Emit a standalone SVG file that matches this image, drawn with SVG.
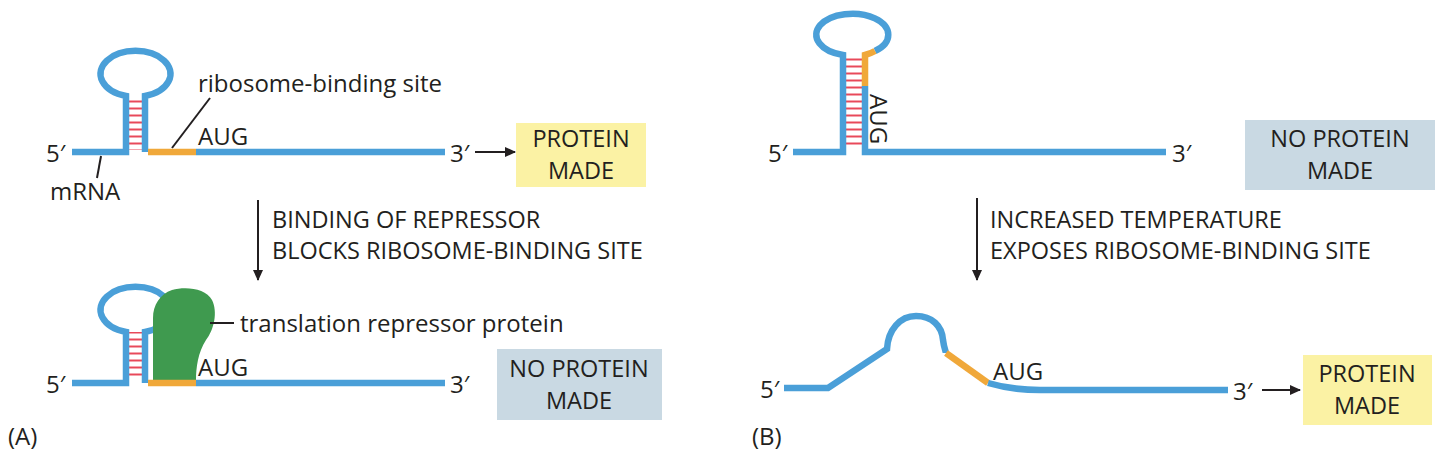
<svg xmlns="http://www.w3.org/2000/svg" width="1442" height="466" viewBox="0 0 1442 466">
<style>
text{font-family:"Open Sans","Noto Sans",sans-serif;fill:#231f20}
.t{font-size:24px}
.b{font-size:23.5px}
.s{font-size:23.5px}
.rna{fill:none;stroke:#4a9fd8;stroke-width:6.5;stroke-linejoin:miter}
.rbs{fill:none;stroke:#f0a83a;stroke-width:6.5}
.bp{stroke:#e8495a;stroke-width:2}
.ln{stroke:#231f20;stroke-width:2;fill:none}
.yb{fill:#fbf2a4}.gb{fill:#c9d9e3}
</style>
<defs>
<marker id="ah" markerWidth="11" markerHeight="10" refX="10" refY="5" orient="auto" markerUnits="userSpaceOnUse"><path d="M0,0L11,5L0,10z" fill="#231f20"/></marker>
<pattern id="bpp" width="22" height="7" patternUnits="userSpaceOnUse"><line x1="0" y1="3.5" x2="22" y2="3.5" class="bp"/></pattern>
</defs>
<g id="panelA-top">
<rect x="128" y="96" width="17" height="54" fill="url(#bpp)"/>
<path class="rna" d="M72,152H126V96 A35,23 0 1 1 145,96 V152"/>
<path class="rbs" d="M148,152H196"/>
<path class="rna" d="M196,152H445"/>
<text class="t" x="46" y="162">5′</text>
<text class="t" x="450" y="162">3′</text>
<text class="t" x="198" y="145">AUG</text>
<text class="t" x="198" y="92">ribosome-binding site</text>
<line class="ln" x1="172" y1="148" x2="210" y2="98"/>
<text class="t" x="50" y="200">mRNA</text>
<line class="ln" x1="101" y1="156" x2="97" y2="178"/>
</g>
<g id="boxA1"><rect class="yb" x="516" y="123" width="130" height="64"/><text class="b" x="581" y="147" text-anchor="middle">PROTEIN</text><text class="b" x="581" y="179" text-anchor="middle">MADE</text></g>
<g id="stepA"><text class="s" x="272" y="228">BINDING OF REPRESSOR</text><text class="s" x="272" y="259">BLOCKS RIBOSOME-BINDING SITE</text></g>
<g id="panelA-bottom">
<rect x="128" y="332" width="17" height="48" fill="url(#bpp)"/>
<path class="rna" d="M72,383H126V332 A35,23 0 1 1 145,332 V383"/>
<path d="M153,380 V318 C153,305 160,294 172,290 C185,286 206,288 212,300 C218,312 214,330 206,340 C198,352 196,368 196,380 Z" fill="#3f9a4f"/>
<path class="rbs" d="M148,383H196"/>
<path class="rna" d="M196,383H445"/>
<text class="t" x="46" y="393">5′</text>
<text class="t" x="450" y="393">3′</text>
<text class="t" x="198" y="376">AUG</text>
<line class="ln" x1="210" y1="323" x2="234" y2="323"/>
<text class="t" x="240" y="332">translation repressor protein</text>
</g>
<g id="boxA2"><rect class="gb" x="497" y="349" width="165" height="71"/><text class="b" x="579" y="377" text-anchor="middle">NO PROTEIN</text><text class="b" x="579" y="409" text-anchor="middle">MADE</text></g>
<text class="t" x="8" y="445">(A)</text>
<g id="panelB-top">
<rect x="845" y="56" width="18" height="93" fill="url(#bpp)"/>
<path class="rna" d="M793,152H843V55 A36,21 0 1 1 875,51"/>
<path class="rbs" d="M875,51 A36,21 0 0 1 865,55 V86"/>
<path class="rna" d="M865,86V152H1166"/>
<text class="t" x="0" y="0" transform="translate(870,94) rotate(90)">AUG</text>
<text class="t" x="768" y="162">5′</text>
<text class="t" x="1172" y="162">3′</text>
</g>
<g id="boxB1"><rect class="gb" x="1245" y="120" width="190" height="70"/><text class="b" x="1340" y="147" text-anchor="middle">NO PROTEIN</text><text class="b" x="1340" y="179" text-anchor="middle">MADE</text></g>
<g id="stepB"><text class="s" x="990" y="228">INCREASED TEMPERATURE</text><text class="s" x="990" y="259">EXPOSES RIBOSOME-BINDING SITE</text></g>
<g id="panelB-bottom">
<path class="rna" d="M784,388H828L887,349 C888,330 900,316 916,316 C932,316 942,326 943,340 C944,348 946,352 946,353"/>
<path class="rbs" d="M946,353L988,383"/>
<path class="rna" d="M988,383 C1005,388 1020,390 1040,390H1228"/>
<text class="t" x="760" y="398">5′</text>
<text class="t" x="1233" y="400">3′</text>
<text class="t" x="993" y="380">AUG</text>
</g>
<g id="boxB2"><rect class="yb" x="1303" y="355" width="129" height="70"/><text class="b" x="1367" y="382" text-anchor="middle">PROTEIN</text><text class="b" x="1367" y="414" text-anchor="middle">MADE</text></g>
<text class="t" x="752" y="445">(B)</text>
<g id="connectors">
<line class="ln" x1="475" y1="152" x2="515" y2="152" marker-end="url(#ah)"/>
<line class="ln" x1="258" y1="200" x2="258" y2="280" marker-end="url(#ah)"/>
<line class="ln" x1="977" y1="198" x2="977" y2="280" marker-end="url(#ah)"/>
<line class="ln" x1="1262" y1="390" x2="1300" y2="390" marker-end="url(#ah)"/>
</g>
</svg>
